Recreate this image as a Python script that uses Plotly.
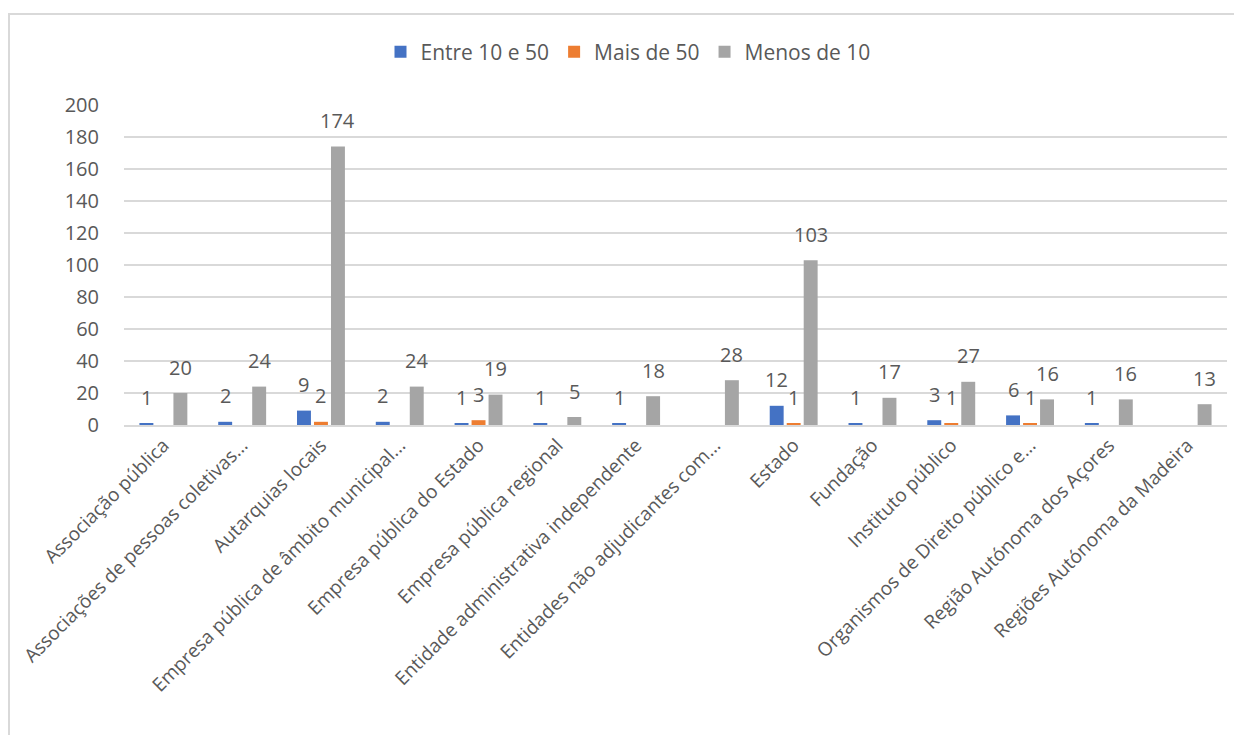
import plotly.graph_objects as go

categories = [
    "Associação pública",
    "Associações de pessoas coletivas...",
    "Autarquias locais",
    "Empresa pública de âmbito municipal...",
    "Empresa pública do Estado",
    "Empresa pública regional",
    "Entidade administrativa independente",
    "Entidades não adjudicantes com...",
    "Estado",
    "Fundação",
    "Instituto público",
    "Organismos de Direito público e...",
    "Região Autónoma dos Açores",
    "Regiões Autónoma da Madeira",
]
entre_10_50 = [1, 2, 9, 2, 1, 1, 1, None, 12, 1, 3, 6, 1, None]
mais_50 = [None, None, 2, None, 3, None, None, None, 1, None, 1, 1, None, None]
menos_10 = [20, 24, 174, 24, 19, 5, 18, 28, 103, 17, 27, 16, 16, 13]

series = [
    ("Entre 10 e 50", entre_10_50, "#4472C4"),
    ("Mais de 50", mais_50, "#ED7D31"),
    ("Menos de 10", menos_10, "#A5A5A5"),
]

FONT = "Open Sans"
TXT = "#595959"

W, H = 1234, 727
L, R, T, B = 116, 15, 97, 310
PW, PH = W - L - R, H - T - B

fig = go.Figure()
annotations = []
offsets = [-17, 0, 17]
for (name, vals, color), dx in zip(series, offsets):
    fig.add_trace(go.Bar(name=name, x=categories, y=vals, marker_color=color,
                         marker_line_width=0))
    for c, v in zip(categories, vals):
        if v is None:
            continue
        annotations.append(dict(x=c, y=v, xref="x", yref="y", text=str(v),
                                showarrow=False, xshift=dx, yshift=26,
                                yanchor="middle", xanchor="center",
                                font=dict(family=FONT, size=20, color=TXT)))

fig.update_layout(
    width=W, height=H,
    margin=dict(l=L, r=R, t=T, b=B, autoexpand=False),
    paper_bgcolor="white", plot_bgcolor="white",
    barmode="group", bargap=0.353, bargroupgap=0.18,
    font=dict(family=FONT, size=20, color=TXT),
    legend=dict(orientation="h", x=(620 - L) / PW, xanchor="center",
                y=1 + (T - 44) / PH, yanchor="middle",
                font=dict(family=FONT, size=21, color=TXT), itemwidth=30,
                traceorder="normal"),
    annotations=annotations,
    shapes=[dict(type="rect", xref="paper", yref="paper",
                 x0=(1 - L) / PW, x1=(W + 20 - L) / PW,
                 y0=-(H + 20 - T - PH) / PH, y1=1 + (T - 6) / PH,
                 line=dict(color="#D9D9D9", width=2), fillcolor="rgba(0,0,0,0)",
                 layer="below")],
)
fig.update_yaxes(range=[0, 200], dtick=20, gridcolor="#D9D9D9", gridwidth=1.5,
                 zeroline=False, showline=False, ticks="",
                 tickfont=dict(family=FONT, size=20, color=TXT),
                 ticklabelstandoff=24)
fig.update_xaxes(showline=True, linecolor="#D9D9D9", linewidth=1.5, ticks="",
                 tickangle=-45, ticklabelstandoff=0,
                 tickfont=dict(family=FONT, size=19, color=TXT))

fig.write_html("out.html")
